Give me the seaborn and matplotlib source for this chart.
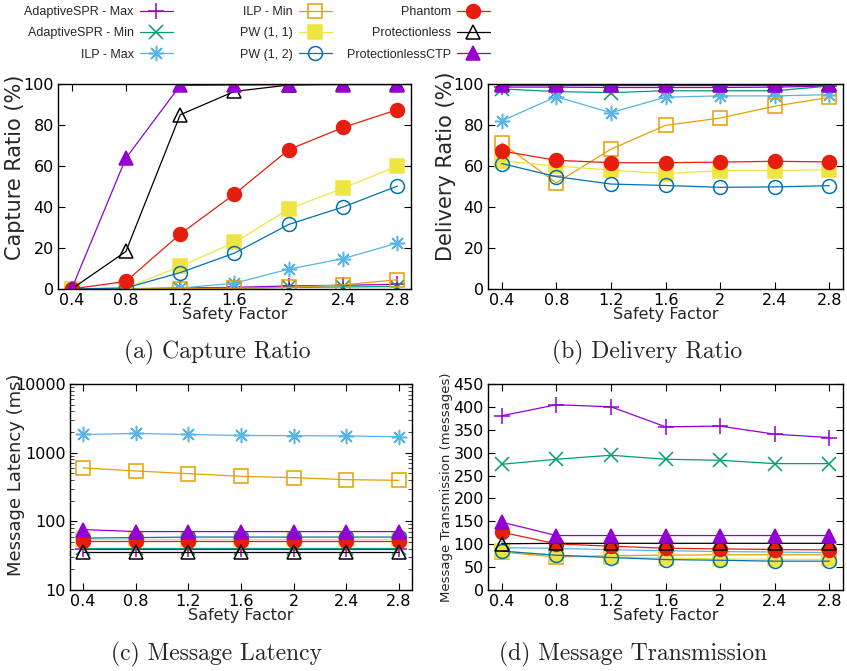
import matplotlib
matplotlib.use("Agg")
import matplotlib.pyplot as plt
from matplotlib.ticker import LogLocator, NullFormatter
import pandas as pd
import seaborn as sns

# x axis shared by every panel
safety_factor = [0.4, 0.8, 1.2, 1.6, 2.0, 2.4, 2.8]
factor_labels = ["0.4", "0.8", "1.2", "1.6", "2", "2.4", "2.8"]

series_names = ["AdaptiveSPR - Max", "AdaptiveSPR - Min", "ILP - Max", "ILP - Min",
                "PW (1, 1)", "PW (1, 2)", "Phantom", "Protectionless", "ProtectionlessCTP"]

capture_ratio = {
    "AdaptiveSPR - Max": [0, 0, 0.5, 0.8, 1.5, 1.8, 2.3],
    "AdaptiveSPR - Min": [0, 0, 0.2, 0.5, 0.8, 1.0, 1.2],
    "ILP - Max": [0, 0.2, 0.5, 2.8, 9.7, 14.8, 22.4],
    "ILP - Min": [0, 0, 0.2, 0.3, 0.8, 2.0, 4.5],
    "PW (1, 1)": [0, 0.5, 11.0, 22.7, 39.0, 49.2, 60.0],
    "PW (1, 2)": [0, 0.5, 8.0, 17.5, 31.5, 40.0, 50.2],
    "Phantom": [0, 3.7, 26.8, 46.3, 68.0, 78.8, 87.5],
    "Protectionless": [0, 18.3, 85.0, 96.4, 99.5, 100, 100],
    "ProtectionlessCTP": [0, 63.8, 99.3, 99.5, 99.6, 99.7, 99.7],
}

delivery_ratio = {
    "AdaptiveSPR - Max": [98.5, 98.5, 98.3, 98.3, 98.3, 98.5, 99.0],
    "AdaptiveSPR - Min": [97.6, 96.3, 95.8, 96.7, 96.7, 96.7, 99.0],
    "ILP - Max": [82.0, 93.8, 86.0, 93.6, 94.2, 94.2, 94.8],
    "ILP - Min": [71.2, 51.8, 68.2, 79.8, 83.4, 89.2, 93.5],
    "PW (1, 1)": [62.5, 60.0, 58.0, 56.3, 57.8, 57.8, 58.2],
    "PW (1, 2)": [61.2, 54.8, 51.2, 50.5, 49.6, 49.8, 50.4],
    "Phantom": [67.3, 62.8, 61.6, 61.6, 61.9, 62.3, 62.0],
    "Protectionless": [99.8, 99.8, 99.8, 99.8, 99.8, 99.8, 99.8],
    "ProtectionlessCTP": [99.6, 99.6, 99.6, 99.6, 99.6, 99.6, 99.6],
}

message_latency = {
    "AdaptiveSPR - Max": [39.5, 39.5, 39.5, 39.5, 39.5, 39.5, 39.5],
    "AdaptiveSPR - Min": [41, 41, 41, 41, 41, 41, 41],
    "ILP - Max": [1840, 1905, 1840, 1780, 1770, 1750, 1705],
    "ILP - Min": [600, 542, 495, 453, 433, 405, 396],
    "PW (1, 1)": [55, 55, 55, 55, 55, 55, 55],
    "PW (1, 2)": [57, 58, 59, 59, 59, 59, 59],
    "Phantom": [52, 52, 52, 52, 52, 52, 52],
    "Protectionless": [36, 36, 36, 36, 36, 36, 36],
    "ProtectionlessCTP": [76, 71, 71, 71, 71, 71, 71],
}

message_transmission = {
    "AdaptiveSPR - Max": [380.6, 404.7, 400.3, 356.5, 358.0, 340.4, 333.1],
    "AdaptiveSPR - Min": [274.7, 285.6, 294.4, 285.6, 283.4, 276.1, 276.1],
    "ILP - Max": [92.5, 91.0, 88.0, 86.0, 84.0, 83.0, 81.5],
    "ILP - Min": [83, 72, 75, 76, 77, 77, 77],
    "PW (1, 1)": [85, 76, 72, 70, 68, 67, 67],
    "PW (1, 2)": [85, 76, 71, 66.5, 65, 63, 63],
    "Phantom": [126.4, 100.8, 95.7, 91.3, 89.8, 88.4, 87.7],
    "Protectionless": [101, 102, 102, 102, 102, 102, 102],
    "ProtectionlessCTP": [148.3, 119, 119, 119, 119, 119, 119],
}

# gnuplot default palette and point types
series_colors = ["#9400d3", "#009e73", "#56b4e9", "#e69f00", "#f0e442",
                 "#0072b2", "#e51e10", "#000000", "#9400d3"]
series_markers = ["+", "x", (8, 2, 0), "s", "s", "o", "o", "^", "^"]
series_filled = [True, True, True, False, True, False, True, False, True]
series_msize = [11, 10, 11, 9.5, 9.5, 10, 10, 10, 10]

sns.set_style("ticks")
plt.rcParams["font.family"] = ["DejaVu Sans"]

fig = plt.figure(figsize=(8.47, 6.71), dpi=100)
ax_a = fig.add_axes([0.0685, 0.5693, 0.4167, 0.3055])
ax_b = fig.add_axes([0.5762, 0.5693, 0.4191, 0.3055])
ax_c = fig.add_axes([0.0826, 0.1207, 0.4038, 0.3070])
ax_d = fig.add_axes([0.5762, 0.1207, 0.4191, 0.3070])

# axes, data, y label, label size, label position (axes coords)
panels = [
    (ax_a, capture_ratio, "Capture Ratio (%)", 15, (-0.093, 0.595)),
    (ax_b, delivery_ratio, "Delivery Ratio (%)", 15, (-0.09, 0.6)),
    (ax_c, message_latency, "Message Latency (ms)", 13, (-0.13, 0.56)),
    (ax_d, message_transmission, "Message Transmission (messages)", 9.5, (-0.099, 0.5)),
]

for ax, values, ylabel, ylsize, ylpos in panels:
    for name, color, marker, filled, ms in zip(series_names, series_colors, series_markers,
                                              series_filled, series_msize):
        df = pd.DataFrame({"factor": safety_factor, "value": values[name]})
        sns.lineplot(data=df, x="factor", y="value", ax=ax, color=color, linewidth=0.9,
                     marker=marker, markersize=ms, markeredgewidth=1.1,
                     markeredgecolor=color,
                     markerfacecolor=color if filled else "none",
                     label=name, legend=False)
    ax.set_xlim(0.3, 2.9)
    ax.set_xticks(safety_factor, labels=factor_labels)
    ax.set_xlabel("Safety Factor", fontsize=11.5, labelpad=-1)
    ax.set_ylabel(ylabel, fontsize=ylsize)
    ax.yaxis.set_label_coords(*ylpos)
    ax.tick_params(direction="in", length=5, width=0.8, top=True, right=True,
                   labelsize=11.5, pad=3, colors="black")
    for sp in ax.spines.values():
        sp.set_visible(True)
        sp.set_linewidth(1.0)
        sp.set_color("black")
    if ax.get_legend() is not None:
        ax.get_legend().remove()

ax_a.set_ylim(0, 100)
ax_a.set_yticks([0, 20, 40, 60, 80, 100])
ax_b.set_ylim(0, 100)
ax_b.set_yticks([0, 20, 40, 60, 80, 100])
ax_c.set_yscale("log")
ax_c.set_ylim(10, 10000)
ax_c.set_yticks([10, 100, 1000, 10000], labels=["10", "100", "1000", "10000"])
ax_c.yaxis.set_minor_locator(LogLocator(base=10, subs=range(2, 10)))
ax_c.yaxis.set_minor_formatter(NullFormatter())
ax_c.tick_params(axis="y", which="minor", direction="in", length=3, right=True)
ax_d.set_ylim(0, 450)
ax_d.set_yticks(range(0, 451, 50))

# three right-aligned legend columns, gnuplot style
handles = [l for l in ax_a.get_lines() if not l.get_label().startswith("_")]
col_right = [173, 332, 490]
for i, right in enumerate(col_right):
    fig.legend(handles[3 * i:3 * i + 3], series_names[3 * i:3 * i + 3],
               loc="upper right", bbox_to_anchor=(right / 847, 1 - 6 / 671),
               frameon=False, markerfirst=False, borderpad=0, borderaxespad=0,
               handlelength=2.65, handletextpad=0.5, labelspacing=0.75,
               prop={"family": "Liberation Sans", "size": 9})

captions = [("(a) Capture Ratio", 0.256, 0.474), ("(b) Delivery Ratio", 0.764, 0.474),
            ("(c) Message Latency", 0.256, 0.024), ("(d) Message Transmission", 0.747, 0.024)]
for text, x, y in captions:
    fig.text(x, y, text, ha="center", va="center", fontsize=17,
             family=["cmr10", "DejaVu Serif"])

fig.savefig("out.png", dpi=100)
